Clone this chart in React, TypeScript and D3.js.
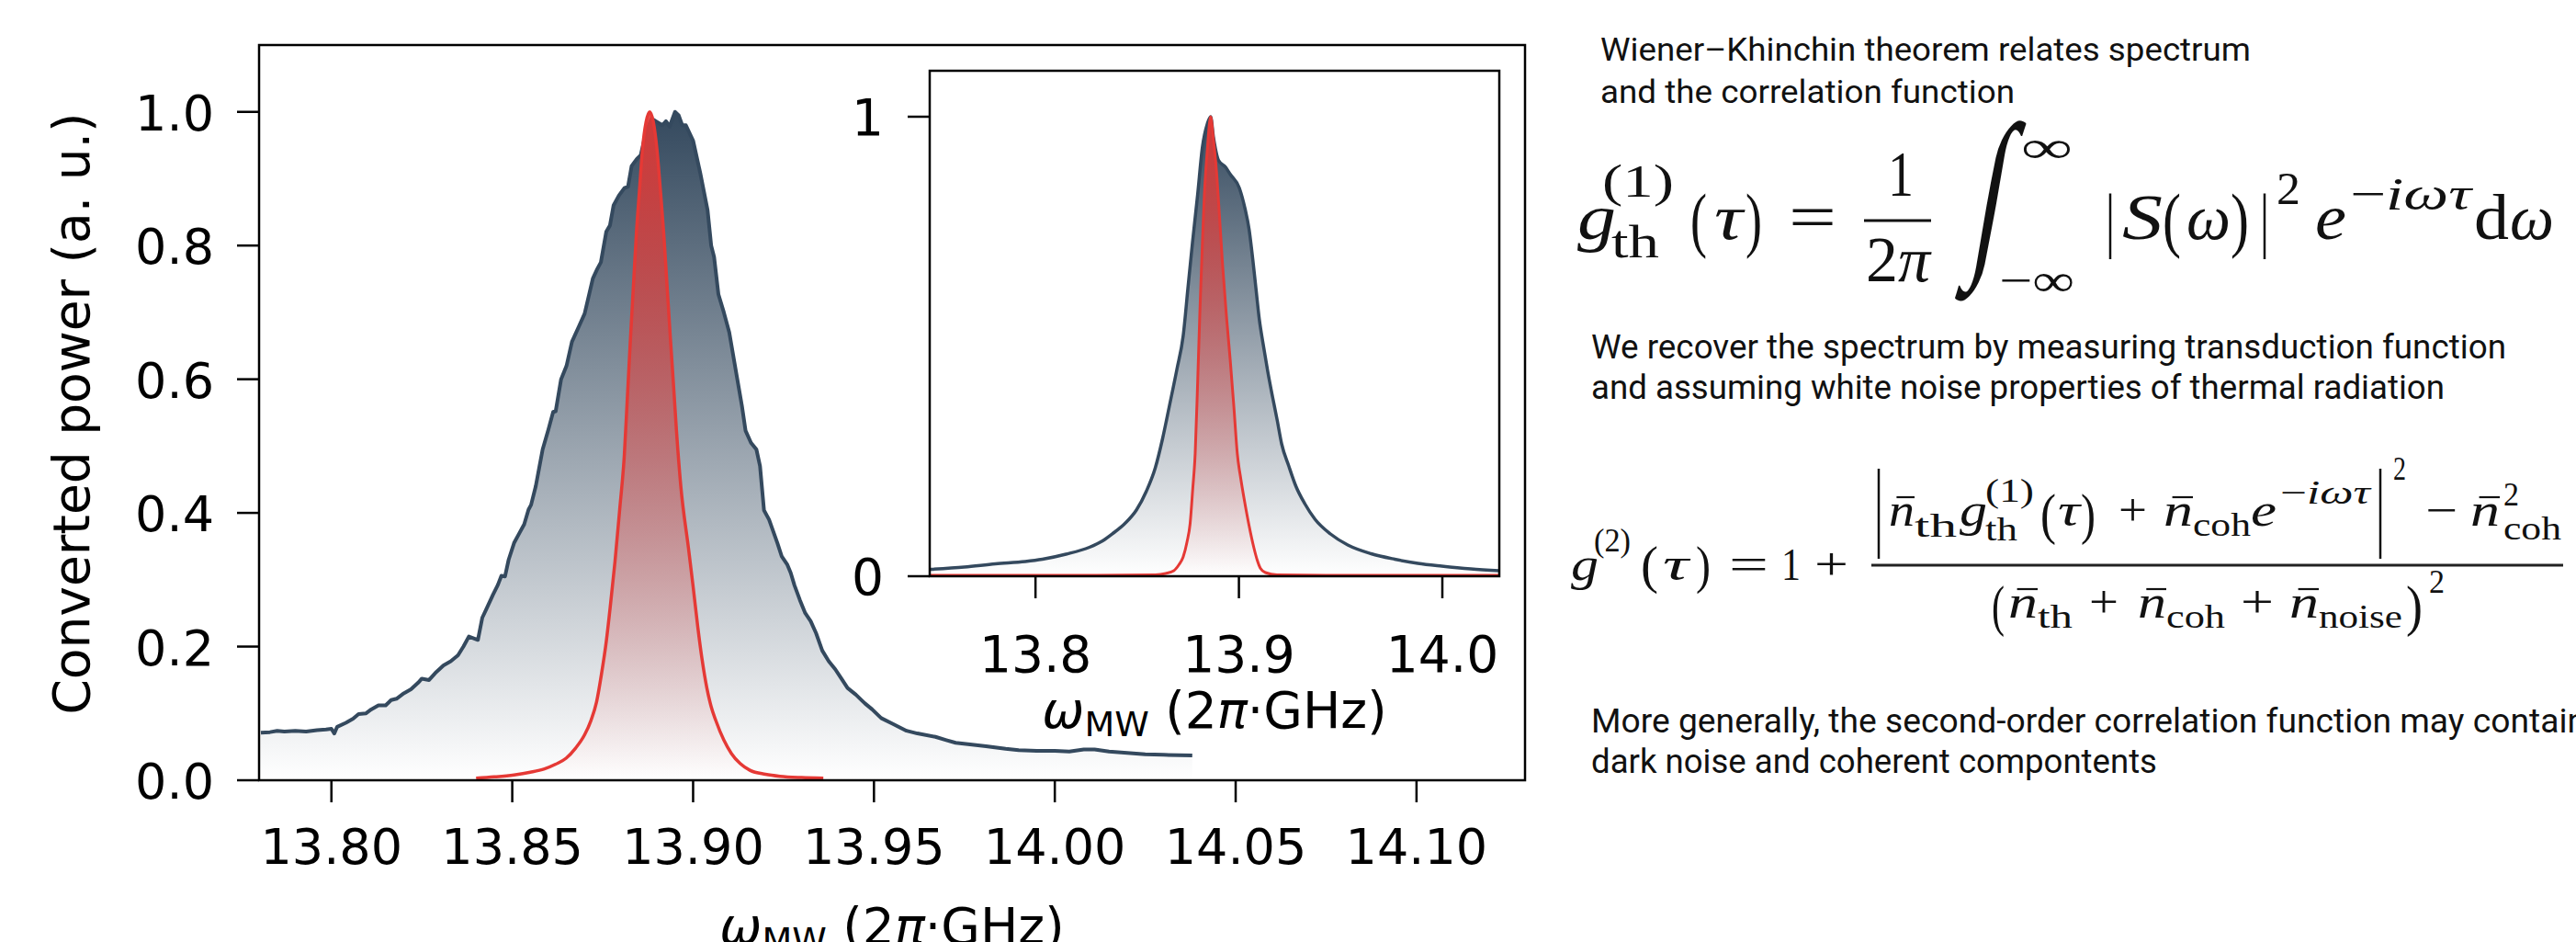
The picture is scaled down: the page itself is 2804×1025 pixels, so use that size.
import React from 'react';
import * as d3 from 'd3';

// ---------- data ----------
const measuredFreq = [13.7805,13.783,13.785,13.787,13.79,13.793,13.796,13.7985,13.8,13.8008,13.8016,13.804,13.806,13.8075,13.8095,13.811,13.813,13.815,13.8165,13.818,13.82,13.822,13.824,13.825,13.827,13.829,13.831,13.833,13.835,13.8365,13.838,13.8395,13.8405,13.8417,13.843,13.8447,13.846,13.847,13.848,13.849,13.8505,13.852,13.8533,13.8545,13.8552,13.8565,13.8584,13.86,13.8613,13.862,13.8635,13.865,13.8665,13.8685,13.87,13.8723,13.8735,13.8745,13.876,13.877,13.878,13.8795,13.881,13.882,13.883,13.8845,13.8855,13.887,13.8885,13.89,13.8915,13.8925,13.8935,13.895,13.896,13.897,13.898,13.9,13.902,13.904,13.905,13.9058,13.907,13.9085,13.91,13.912,13.9135,13.9145,13.916,13.9175,13.9185,13.9196,13.921,13.9233,13.9245,13.926,13.927,13.928,13.9295,13.931,13.9325,13.934,13.9357,13.9375,13.9393,13.941,13.9427,13.945,13.9475,13.9495,13.952,13.955,13.9575,13.959,13.962,13.967,13.97,13.9726,13.976,13.981,13.9864,13.99,13.995,14.0,14.004,14.008,14.011,14.015,14.02,14.025,14.03,14.038];
const measuredPower = [0.071,0.072,0.074,0.073,0.074,0.073,0.075,0.076,0.077,0.07,0.08,0.086,0.092,0.099,0.1,0.106,0.112,0.112,0.12,0.122,0.13,0.136,0.146,0.152,0.15,0.162,0.172,0.178,0.187,0.2,0.215,0.212,0.21,0.243,0.258,0.278,0.292,0.306,0.305,0.33,0.355,0.37,0.383,0.405,0.412,0.44,0.495,0.525,0.551,0.552,0.6,0.62,0.656,0.68,0.698,0.751,0.765,0.775,0.821,0.83,0.86,0.875,0.886,0.888,0.919,0.93,0.935,0.97,0.99,0.985,0.98,0.986,0.978,1.0,0.995,0.98,0.98,0.957,0.908,0.853,0.8,0.783,0.727,0.7,0.67,0.607,0.56,0.523,0.505,0.495,0.47,0.404,0.39,0.355,0.335,0.323,0.31,0.292,0.27,0.25,0.238,0.22,0.194,0.178,0.166,0.152,0.138,0.128,0.115,0.106,0.093,0.085,0.078,0.074,0.07,0.065,0.06,0.056,0.054,0.051,0.047,0.045,0.044,0.044,0.043,0.046,0.046,0.043,0.041,0.039,0.038,0.037];

const transFreq = [13.84,13.845,13.8505,13.855,13.8589,13.862,13.8649,13.8675,13.87,13.8718,13.8733,13.8747,13.876,13.8772,13.8784,13.8797,13.881,13.8818,13.8827,13.8835,13.8843,13.8852,13.886,13.887,13.888,13.889,13.89,13.891,13.8919,13.8928,13.8937,13.8946,13.8954,13.8966,13.8987,13.9,13.9013,13.9025,13.9038,13.905,13.9063,13.9085,13.9106,13.913,13.9157,13.92,13.924,13.93,13.936];
const transPower = [0.003,0.005,0.008,0.012,0.017,0.024,0.033,0.048,0.068,0.09,0.117,0.16,0.208,0.265,0.327,0.405,0.488,0.57,0.663,0.74,0.817,0.885,0.944,0.985,1.0,0.985,0.944,0.88,0.817,0.74,0.663,0.59,0.523,0.44,0.348,0.29,0.229,0.18,0.138,0.11,0.089,0.06,0.04,0.025,0.015,0.009,0.006,0.004,0.003];

const insetSpecFreq = [13.748,13.765,13.7803,13.795,13.8034,13.815,13.8265,13.833,13.838,13.844,13.8496,13.8545,13.8589,13.8625,13.8658,13.8695,13.8726,13.875,13.8772,13.8797,13.882,13.8845,13.8861,13.8875,13.89,13.8935,13.8957,13.9002,13.903,13.905,13.9068,13.9084,13.91,13.912,13.9142,13.9165,13.9188,13.921,13.9245,13.928,13.9325,13.9374,13.945,13.9535,13.965,13.9766,13.988,13.9997,14.014,14.028];
const insetSpecPower = [0.015,0.02,0.027,0.032,0.037,0.048,0.063,0.077,0.093,0.115,0.144,0.185,0.236,0.3,0.37,0.45,0.523,0.63,0.727,0.83,0.932,0.985,1.0,0.955,0.905,0.89,0.875,0.845,0.8,0.755,0.69,0.625,0.56,0.503,0.445,0.391,0.34,0.288,0.24,0.196,0.157,0.124,0.092,0.068,0.049,0.037,0.028,0.022,0.016,0.012];

const insetTransFreq = [13.748,13.83,13.8589,13.864,13.868,13.8705,13.8726,13.8745,13.876,13.8773,13.8785,13.8797,13.8808,13.882,13.883,13.8845,13.8861,13.8875,13.889,13.8905,13.892,13.8938,13.8957,13.8975,13.8992,13.901,13.9027,13.905,13.9073,13.909,13.9106,13.913,13.9188,13.95,14.028];
const insetTransPower = [0.002,0.002,0.003,0.006,0.012,0.025,0.042,0.075,0.114,0.19,0.267,0.42,0.574,0.72,0.829,0.93,1.0,0.95,0.88,0.78,0.676,0.57,0.472,0.37,0.267,0.21,0.165,0.11,0.063,0.035,0.017,0.008,0.003,0.002,0.002];

const mainXTicks = [13.8,13.85,13.9,13.95,14.0,14.05,14.1];
const mainYTicks = [0,0.2,0.4,0.6,0.8,1.0];
const insetXTicks = [13.8,13.9,14.0];
const insetYTicks = [0,1];

const noteLines = [
  'Wiener\u2013Khinchin theorem relates spectrum',
  'and the correlation function',
  'We recover the spectrum by measuring transduction function',
  'and assuming white noise properties of thermal radiation',
  'More generally, the second-order correlation function may contain',
  'dark noise and coherent compontents',
];

// ---------- styles ----------
const SANS = "'DejaVu Sans', sans-serif";
const SERIF = "'Liberation Serif', 'DejaVu Serif', serif";
const TEXT = "Roboto, 'Liberation Sans', Arial, sans-serif";
const BLUE = '#34495e';
const RED = '#e53935';
const INK = '#111';

type Pt = [number, number];
const zip = (a: number[], b: number[]): Pt[] => a.map((v, i) => [v, b[i]]);

// math piece: left x, width w, baseline y, size s
const E = ({ x, w, y, s, t, it, children }: { x: number; w: number; y: number; s: number; t?: string; it?: boolean; children?: React.ReactNode }) => (
  <text x={x} y={y} fontSize={s} fontStyle={it ? 'italic' : 'normal'} fontFamily={SERIF} fill={INK} textLength={w} lengthAdjust="spacingAndGlyphs">{children ?? t}</text>
);

// n with a bar
const NB = ({ x, w, y, s }: { x: number; w: number; y: number; s: number }) => (
  <g>
    <E x={x} w={w} y={y} s={s} t="n" it />
    <line x1={x + 0.3 * w} x2={x + w} y1={y - 0.62 * s} y2={y - 0.62 * s} stroke={INK} strokeWidth={2.2} />
  </g>
);

function AxisLabel({ x, y }: { x: number; y: number }) {
  return (
    <text x={x} y={y} textAnchor="middle" fontFamily={SANS} fontSize={55} fill="#000">
      <tspan fontStyle="italic">ω</tspan>
      <tspan fontSize={38} dy={9}>MW</tspan>
      <tspan dy={-9}> (2</tspan>
      <tspan fontStyle="italic">π</tspan>
      <tspan>·GHz)</tspan>
    </text>
  );
}

export default function App() {
  const x = d3.scaleLinear().domain([13.78, 14.13]).range([282, 1660]);
  const y = d3.scaleLinear().domain([0, 1.1]).range([849, 49]);
  const xi = d3.scaleLinear().domain([13.748, 14.028]).range([1012, 1632]);
  const yi = d3.scaleLinear().domain([0, 1.1]).range([627, 77]);

  const measured = zip(measuredFreq, measuredPower);
  const trans = zip(transFreq, transPower);
  const iSpec = zip(insetSpecFreq, insetSpecPower);
  const iTrans = zip(insetTransFreq, insetTransPower);

  const lineM = d3.line<Pt>().x(d => x(d[0])).y(d => y(d[1]));
  const areaM = d3.area<Pt>().x(d => x(d[0])).y0(y(0)).y1(d => y(d[1]));
  const lineMs = d3.line<Pt>().x(d => x(d[0])).y(d => y(d[1])).curve(d3.curveMonotoneX);
  const areaMs = d3.area<Pt>().x(d => x(d[0])).y0(y(0)).y1(d => y(d[1])).curve(d3.curveMonotoneX);
  const lineI = d3.line<Pt>().x(d => xi(d[0])).y(d => yi(d[1])).curve(d3.curveMonotoneX);
  const areaI = d3.area<Pt>().x(d => xi(d[0])).y0(yi(0)).y1(d => yi(d[1])).curve(d3.curveMonotoneX);

  const fmt2 = d3.format('.2f');
  const fmt1 = d3.format('.1f');
  const TL = 24;
  const SW = 2.5;

  return (
    <svg width={2804} height={1025} style={{ position: 'absolute', left: 0, top: 0, background: '#fff' }} xmlns="http://www.w3.org/2000/svg">
      <defs>
        <linearGradient id="gb" gradientUnits="userSpaceOnUse" x1={0} x2={0} y1={y(1)} y2={y(0)}>
          <stop offset="0" stopColor={BLUE} stopOpacity={1} />
          <stop offset="1" stopColor={BLUE} stopOpacity={0} />
        </linearGradient>
        <linearGradient id="gr" gradientUnits="userSpaceOnUse" x1={0} x2={0} y1={y(1)} y2={y(0)}>
          <stop offset="0" stopColor={RED} stopOpacity={0.9} />
          <stop offset="1" stopColor={RED} stopOpacity={0} />
        </linearGradient>
        <linearGradient id="gbi" gradientUnits="userSpaceOnUse" x1={0} x2={0} y1={yi(1)} y2={yi(0)}>
          <stop offset="0" stopColor={BLUE} stopOpacity={1} />
          <stop offset="1" stopColor={BLUE} stopOpacity={0} />
        </linearGradient>
        <linearGradient id="gri" gradientUnits="userSpaceOnUse" x1={0} x2={0} y1={yi(1)} y2={yi(0)}>
          <stop offset="0" stopColor={RED} stopOpacity={0.9} />
          <stop offset="1" stopColor={RED} stopOpacity={0} />
        </linearGradient>
        <clipPath id="ci"><rect x={1012} y={77} width={620} height={550} /></clipPath>
      </defs>
      <rect x={0} y={0} width={2804} height={1025} fill="#fff" />

      {/* main plot */}
      <path d={areaM(measured) || ''} fill="url(#gb)" />
      <path d={lineM(measured) || ''} fill="none" stroke={BLUE} strokeWidth={4} strokeLinejoin="round" />
      <path d={areaMs(trans) || ''} fill="url(#gr)" />
      <path d={lineMs(trans) || ''} fill="none" stroke={RED} strokeWidth={3.5} strokeLinejoin="round" />
      <rect x={282} y={49} width={1660 - 282} height={849 - 49} fill="none" stroke="#000" strokeWidth={SW} />
      {mainXTicks.map(t => (
        <g key={'mx' + t}>
          <line x1={x(t)} x2={x(t)} y1={849} y2={849 + TL} stroke="#000" strokeWidth={SW} />
          <text x={x(t)} y={940} textAnchor="middle" fontFamily={SANS} fontSize={54}>{fmt2(t)}</text>
        </g>
      ))}
      {mainYTicks.map(t => (
        <g key={'my' + t}>
          <line x1={282 - TL} x2={282} y1={y(t)} y2={y(t)} stroke="#000" strokeWidth={SW} />
          <text x={233} y={y(t) + 20} textAnchor="end" fontFamily={SANS} fontSize={54}>{fmt1(t)}</text>
        </g>
      ))}
      <text transform="translate(97,450) rotate(-90)" textAnchor="middle" fontFamily={SANS} fontSize={55}>Converted power (a. u.)</text>
      <AxisLabel x={971} y={1027} />

      {/* inset */}
      <rect x={1012} y={77} width={620} height={550} fill="#fff" />
      <g clipPath="url(#ci)">
        <path d={areaI(iSpec) || ''} fill="url(#gbi)" />
        <path d={lineI(iSpec) || ''} fill="none" stroke={BLUE} strokeWidth={3.5} />
        <path d={areaI(iTrans) || ''} fill="url(#gri)" />
        <path d={lineI(iTrans) || ''} fill="none" stroke={RED} strokeWidth={3} />
      </g>
      <rect x={1012} y={77} width={620} height={550} fill="none" stroke="#000" strokeWidth={SW} />
      {insetXTicks.map(t => (
        <g key={'ix' + t}>
          <line x1={xi(t)} x2={xi(t)} y1={627} y2={627 + TL} stroke="#000" strokeWidth={SW} />
          <text x={xi(t)} y={731} textAnchor="middle" fontFamily={SANS} fontSize={55}>{fmt1(t)}</text>
        </g>
      ))}
      {insetYTicks.map(t => (
        <g key={'iy' + t}>
          <line x1={1012 - TL} x2={1012} y1={yi(t)} y2={yi(t)} stroke="#000" strokeWidth={SW} />
          <text x={962} y={yi(t) + 20} textAnchor="end" fontFamily={SANS} fontSize={55}>{String(t)}</text>
        </g>
      ))}
      <AxisLabel x={1322} y={792} />

      {/* notes */}
      <text x={1742} y={66} fontFamily={TEXT} fontSize={35} fill={INK} textLength={708} lengthAdjust="spacingAndGlyphs">{noteLines[0]}</text>
      <text x={1742} y={112} fontFamily={TEXT} fontSize={35} fill={INK} textLength={451} lengthAdjust="spacingAndGlyphs">{noteLines[1]}</text>
      <text x={1732} y={390} fontFamily={TEXT} fontSize={37} fill={INK} textLength={996} lengthAdjust="spacingAndGlyphs">{noteLines[2]}</text>
      <text x={1732} y={434} fontFamily={TEXT} fontSize={37} fill={INK} textLength={929} lengthAdjust="spacingAndGlyphs">{noteLines[3]}</text>
      <text x={1732} y={797} fontFamily={TEXT} fontSize={37} fill={INK} textLength={1083} lengthAdjust="spacingAndGlyphs">{noteLines[4]}</text>
      <text x={1732} y={841} fontFamily={TEXT} fontSize={37} fill={INK} textLength={616} lengthAdjust="spacingAndGlyphs">{noteLines[5]}</text>

      {/* equation 1 */}
      <g>
        <E x={1717} w={42} y={260} s={70} t="g" it />
        <E x={1744} w={78} y={214} s={50} t="(1)" />
        <E x={1754} w={52} y={280} s={50} t="th" />
        <E x={1840} w={18} y={265} s={78} t="(" />
        <E x={1866} w={31} y={260} s={70} t="τ" it />
        <E x={1900} w={18} y={265} s={78} t=")" />
        <E x={1947} w={52} y={260} s={70} t="=" />
        <line x1={2029} x2={2102} y1={240} y2={240} stroke={INK} strokeWidth={3} />
        <E x={2055} w={28} y={213} s={70} t="1" />
        <E x={2031} w={70} y={306} s={70}><tspan>2</tspan><tspan fontStyle="italic">π</tspan></E>
        <g transform="translate(2143,274) skewX(-10)">
          <text x={0} y={0} fontSize={200} fontFamily={SERIF} fill={INK} textLength={32} lengthAdjust="spacingAndGlyphs">∫</text>
        </g>
        <E x={2200} w={56} y={177} s={50} t="∞" />
        <E x={2176} w={82} y={322} s={50} t="−∞" />
        <E x={2292} w={10} y={265} s={78} t="|" />
        <E x={2310} w={44} y={260} s={70} t="S" it />
        <E x={2354} w={20} y={265} s={78} t="(" />
        <E x={2380} w={48} y={260} s={70} t="ω" it />
        <E x={2428} w={20} y={265} s={78} t=")" />
        <E x={2460} w={10} y={265} s={78} t="|" />
        <E x={2478} w={26} y={222} s={50} t="2" />
        <E x={2520} w={34} y={260} s={70} t="e" it />
        <E x={2558} w={132} y={228} s={50}><tspan>−</tspan><tspan fontStyle="italic">iωτ</tspan></E>
        <E x={2693} w={38} y={260} s={70} t="d" />
        <E x={2732} w={48} y={260} s={70} t="ω" it />
      </g>

      {/* equation 2 */}
      <g>
        <E x={1710} w={30} y={631} s={50} t="g" it />
        <E x={1735} w={40} y={600} s={35} t="(2)" />
        <E x={1786} w={19} y={634} s={56} t="(" />
        <E x={1810} w={28} y={631} s={50} t="τ" it />
        <E x={1846} w={16} y={634} s={56} t=")" />
        <E x={1882} w={43} y={631} s={50} t="=" />
        <E x={1939} w={21} y={631} s={50} t="1" />
        <E x={1975} w={37} y={631} s={50} t="+" />
        <line x1={2037} x2={2790} y1={615} y2={615} stroke="#222" strokeWidth={3} />
        {/* numerator */}
        <line x1={2045} x2={2045} y1={510} y2={608} stroke={INK} strokeWidth={2.5} />
        <NB x={2056} w={28} y={572} s={50} />
        <E x={2084} w={46} y={584} s={35} t="th" />
        <E x={2133} w={30} y={572} s={50} t="g" it />
        <E x={2161} w={53} y={546} s={35} t="(1)" />
        <E x={2161} w={35} y={588} s={35} t="th" />
        <E x={2221} w={17} y={580} s={62} t="(" />
        <E x={2240} w={24} y={572} s={50} t="τ" it />
        <E x={2265} w={16} y={580} s={62} t=")" />
        <E x={2306} w={31} y={572} s={50} t="+" />
        <NB x={2355} w={32} y={572} s={50} />
        <E x={2387} w={63} y={583} s={35} t="coh" />
        <E x={2450} w={28} y={572} s={50} t="e" it />
        <E x={2482} w={98} y={548} s={35}><tspan>−</tspan><tspan fontStyle="italic">iωτ</tspan></E>
        <line x1={2591} x2={2591} y1={510} y2={608} stroke={INK} strokeWidth={2.5} />
        <E x={2605} w={14} y={522} s={35} t="2" />
        <E x={2640} w={35} y={572} s={50} t="−" />
        <NB x={2689} w={32} y={572} s={50} />
        <E x={2725} w={17} y={550} s={35} t="2" />
        <E x={2725} w={63} y={587} s={35} t="coh" />
        {/* denominator */}
        <E x={2168} w={14} y={680} s={62} t="(" />
        <NB x={2186} w={32} y={672} s={50} />
        <E x={2218} w={38} y={683} s={35} t="th" />
        <E x={2274} w={32} y={672} s={50} t="+" />
        <NB x={2327} w={31} y={672} s={50} />
        <E x={2358} w={64} y={683} s={35} t="coh" />
        <E x={2439} w={36} y={672} s={50} t="+" />
        <NB x={2492} w={32} y={672} s={50} />
        <E x={2524} w={91} y={683} s={35} t="noise" />
        <E x={2619} w={18} y={680} s={62} t=")" />
        <E x={2644} w={17} y={645} s={35} t="2" />
      </g>
    </svg>
  );
}
